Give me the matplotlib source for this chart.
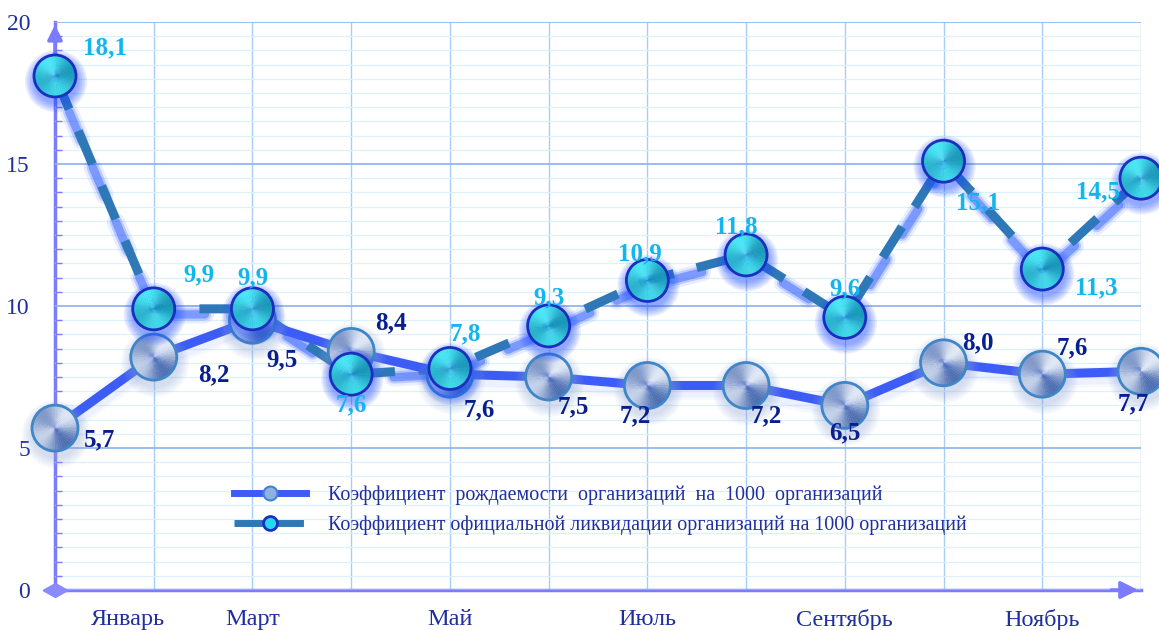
import numpy as np
import matplotlib
matplotlib.use('Agg')
import matplotlib.pyplot as plt
from matplotlib.patches import Wedge, Circle
from matplotlib.lines import Line2D
from matplotlib.path import Path
from matplotlib.transforms import Affine2D, ScaledTranslation
import matplotlib.colors as mcolors

plt.rcParams['font.family'] = ['Liberation Serif', 'DejaVu Serif']
plt.rcParams['lines.scale_dashes'] = False

# Data
months = ['Январь', 'Февраль', 'Март', 'Апрель', 'Май', 'Июнь',
          'Июль', 'Август', 'Сентябрь', 'Октябрь', 'Ноябрь', 'Декабрь']
birth = [5.7, 8.2, 9.5, 8.4, 7.6, 7.5, 7.2, 7.2, 6.5, 8.0, 7.6, 7.7]
liquid = [18.1, 9.9, 9.9, 7.6, 7.8, 9.3, 10.9, 11.8, 9.6, 15.1, 11.3, 14.5]
shown_months = ['Январь', 'Март', 'Май', 'Июль', 'Сентябрь', 'Ноябрь']
birth_name = 'Коэффициент  рождаемости  организаций  на  1000  организаций'
liquid_name = 'Коэффициент официальной ликвидации организаций на 1000 организаций'

# label offsets (pixels)
birth_off = [(45, -12), (60, -18), (30, -40), (40, 29), (29, -36), (25, -30),
             (-12, -30), (20, -30), (0, -27), (34, 20), (30, 26), (-8, -32)]
liquid_off = [(50, 28), (45, 34), (0, 31), (0, -31), (15, 35), (0, 28),
              (-7, 27), (-10, 28), (0, 29), (34, -42), (54, -19), (-43, -14)]

AXIS_COL = '#7b7bff'
TXT_COL = '#1f2fa0'
BIRTH_LINE = '#3d5cf5'
LIQ_LINE = '#2e78b8'

fig = plt.figure(figsize=(11.59, 6.30), dpi=100)
ax = fig.add_axes([55 / 1159, 40 / 630, 1086 / 1159, 568 / 630])
x = np.arange(len(months))
ax.set_xlim(0, len(months) - 1)
ax.set_ylim(0, 20)

# grid
ax.set_yticks(np.arange(0, 20.01, 0.5), minor=True)
ax.set_yticks([0, 5, 10, 15, 20])
ax.grid(which='minor', axis='y', color='#dcf1fb', lw=0.9, zorder=0)
ax.grid(which='major', axis='y', color='#8fb8ee', lw=1.3, zorder=0)
for xi in x:
    ax.axvline(xi, color='#aacdf6', lw=1.0, zorder=0)

for s in ['top', 'right']:
    ax.spines[s].set_visible(False)
for s in ['left', 'bottom']:
    ax.spines[s].set_color(AXIS_COL)
    ax.spines[s].set_linewidth(2.5)
    ax.spines[s].set_zorder(1)

ax.tick_params(axis='y', which='major', length=0, pad=18, labelsize=17, labelcolor=TXT_COL)
ax.tick_params(axis='y', which='minor', direction='in', length=5, color=AXIS_COL, width=1)
ax.set_yticklabels(['0', '5', '10', '15', '20'])
tick_pos = [0.74, 2, 4, 6, 8, 10]
ax.set_xticks(tick_pos)
ax.set_xticklabels(shown_months)
ax.tick_params(axis='x', length=0, pad=14, labelsize=17.5, labelcolor=TXT_COL)

# axis arrows and origin diamond
ax.annotate('', xy=(0, 1.0), xytext=(0, 0.94), xycoords='axes fraction',
            arrowprops=dict(arrowstyle='-|>', color=AXIS_COL, lw=2.5, mutation_scale=22),
            annotation_clip=False)
ax.annotate('', xy=(1.0, 0), xytext=(0.97, 0), xycoords='axes fraction',
            arrowprops=dict(arrowstyle='-|>', color=AXIS_COL, lw=2.5, mutation_scale=26),
            annotation_clip=False)
diamond = Path([(-1.8, 0), (0, 1), (1.8, 0), (0, -1), (-1.8, 0)])
ax.plot([0], [0], marker=diamond, ms=18, color='#8a8aff', transform=ax.transAxes,
        clip_on=False, zorder=2)

# lines with glow
def shifted(dx, dy):
    return ax.transData + ScaledTranslation(dx / 72, dy / 72, fig.dpi_scale_trans)

for lw, a in [(15, 0.05), (11, 0.08)]:
    ax.plot(x, birth, color='#7090ff', lw=lw, alpha=a, transform=shifted(0, -3),
            solid_capstyle='round', zorder=2)
for lw, a in [(13, 0.1), (9, 0.22), (6, 0.4)]:
    ax.plot(x, liquid, color='#1e50ff', lw=lw, alpha=a, transform=shifted(1, -4),
            linestyle=(19, (22, 21)), dash_capstyle='round', zorder=2)
ax.plot(x, liquid, color=LIQ_LINE, lw=6.5, linestyle=(0, (26, 17)), zorder=3)
ax.plot(x, birth, color=BIRTH_LINE, lw=6.5, zorder=3.5)


def blend(c1, c2, t):
    c1 = np.array(mcolors.to_rgb(c1))
    c2 = np.array(mcolors.to_rgb(c2))
    return tuple(c1 + (c2 - c1) * t)


def ball(xv, yv, r, dark, light, edge, phase, glow, galpha, z):
    tr = Affine2D().scale(r) + ScaledTranslation(xv, yv, ax.transData)
    for k in range(6, 0, -1):
        ax.add_patch(Circle((0.05, -0.25), 1 + 0.08 * k, transform=tr, color=glow,
                            alpha=galpha, lw=0, clip_on=False, zorder=z))
    n = 48
    for i in range(n):
        a0 = 360 * i / n
        th = np.deg2rad(a0 + 180 / n)
        t = 0.5 + 0.5 * np.cos(2 * (th - np.deg2rad(phase)))
        t = 0.65 * t + 0.35 * (0.5 + 0.5 * np.cos(th - np.deg2rad(phase + 60)))
        ax.add_patch(Wedge((0, 0), 1, a0, a0 + 360 / n + 1, transform=tr,
                           color=blend(dark, light, t), lw=0, clip_on=False, zorder=z + 0.1))
    ax.add_patch(Circle((0, 0), 1, transform=tr, fill=False, ec=edge, lw=2,
                        clip_on=False, zorder=z + 0.2))


for xi, yi in zip(x, birth):
    ball(xi, yi, 23, '#4a6cb0', '#eef3fb', '#3f86c8', 40, '#8ea8d8', 0.07, 4)
for xi, yi in zip(x, liquid):
    ball(xi, yi, 21, '#1898b8', '#4ef0fa', '#1a2fc0', 110, '#1e50ff', 0.1, 5)

# labels
for xi, yi, off in zip(x, birth, birth_off):
    ax.annotate(f'{yi:.1f}'.replace('.', ','), (xi, yi), xytext=off, textcoords='offset pixels',
                ha='center', va='center', fontsize=18, fontweight='bold', color='#0a1f8f',
                zorder=7, annotation_clip=False)
for xi, yi, off in zip(x, liquid, liquid_off):
    ax.annotate(f'{yi:.1f}'.replace('.', ','), (xi, yi), xytext=off, textcoords='offset pixels',
                ha='center', va='center', fontsize=18, fontweight='bold', color='#12b5ee',
                zorder=7, annotation_clip=False)

# legend
h1 = Line2D([], [], color=BIRTH_LINE, lw=5, marker='o', ms=10, mfc='#8fb0e0', mec='#3f86c8', mew=1.5)
h2 = Line2D([], [], color=LIQ_LINE, lw=5, linestyle=(0, (21, 8)), marker='o', ms=10,
            mfc='#2ad6ee', mec='#1a2fc0', mew=2)
leg = ax.legend([h1, h2], [birth_name, liquid_name], loc='upper left',
                bbox_to_anchor=(0.165, 0.184), frameon=False, fontsize=14.4,
                handlelength=3.6, handletextpad=1.1, labelspacing=0.55,
                borderaxespad=0, borderpad=0)
for t in leg.get_texts():
    t.set_color(TXT_COL)
leg.set_zorder(8)

fig.savefig('out.png', dpi=100, facecolor='white')
